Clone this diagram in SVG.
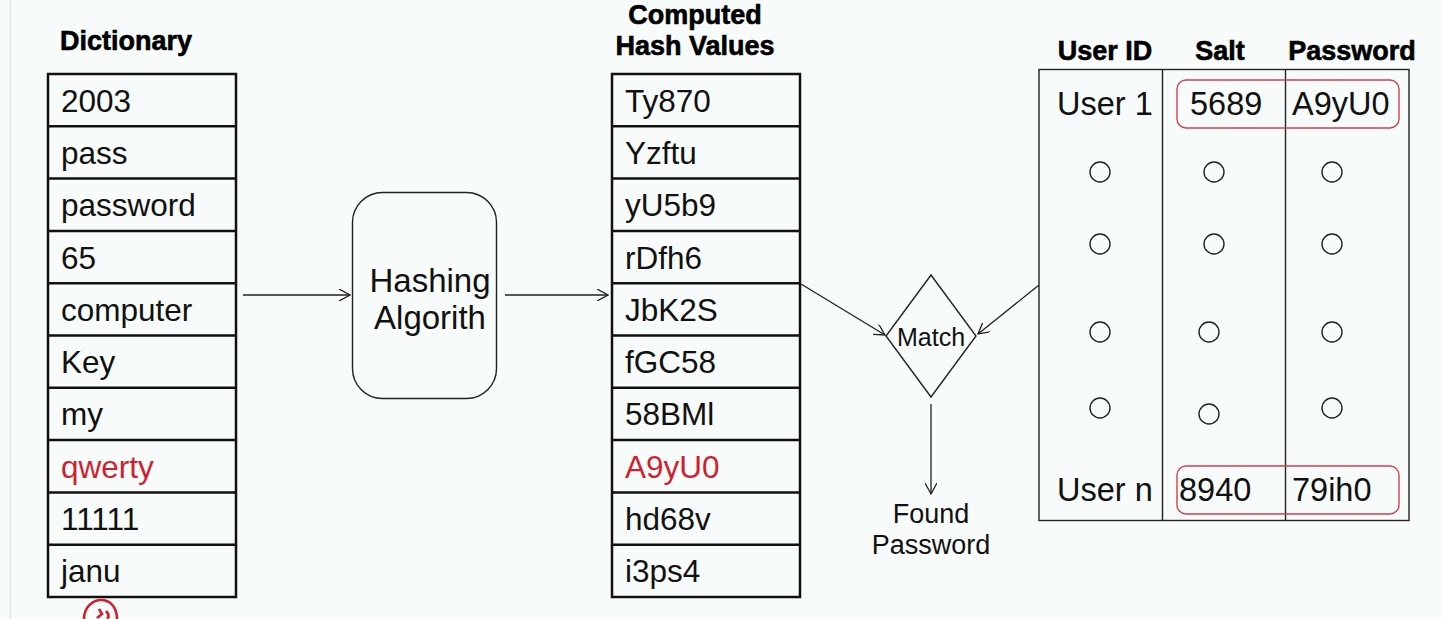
<svg xmlns="http://www.w3.org/2000/svg" width="1441" height="619" viewBox="0 0 1441 619">
<style>
.bg{fill:#f7fbf9}
.cell{fill:none;stroke:#111;stroke-width:2.5}
.t{font-family:"Liberation Sans",Arial,sans-serif;font-size:31.5px;fill:#111}
.u{font-size:32.5px}
.red{fill:#d01f30}
.h{font-family:"Liberation Sans",Arial,sans-serif;font-size:27px;font-weight:bold;fill:#000;stroke:#000;stroke-width:0.6}
.ln{fill:none;stroke:#222;stroke-width:1.3}
.thin{fill:none;stroke:#222;stroke-width:1.4}
.dot{fill:none;stroke:#222;stroke-width:1.4}
.rbox{fill:none;stroke:#d04050;stroke-width:1.4}
</style>
<defs>
<marker id="arr" viewBox="0 0 12 12" refX="11" refY="6" markerWidth="12" markerHeight="12" markerUnits="userSpaceOnUse" orient="auto">
<path d="M0,0 L11,6 L0,12" fill="none" stroke="#222" stroke-width="1.3"/>
</marker>
</defs>
<rect class="bg" x="0" y="0" width="1441" height="619"/>
<line x1="10.5" y1="0" x2="10.5" y2="619" stroke="#e2e6e4" stroke-width="1.5"/>

<g id="dictionary">
<text class="h" x="60" y="50">Dictionary</text>
<rect class="cell" x="48" y="74" width="188" height="523"/>
<path class="cell" d="M48,126.3H236M48,178.6H236M48,230.9H236M48,283.2H236M48,335.5H236M48,387.8H236M48,440.1H236M48,492.4H236M48,544.7H236"/>
<text class="t" x="61" y="112">2003</text>
<text class="t" x="61" y="164">pass</text>
<text class="t" x="61" y="216">password</text>
<text class="t" x="61" y="269">65</text>
<text class="t" x="61" y="321">computer</text>
<text class="t" x="61" y="373">Key</text>
<text class="t" x="61" y="425">my</text>
<text class="t red" x="61" y="478">qwerty</text>
<text class="t" x="61" y="530">11111</text>
<text class="t" x="61" y="582">janu</text>
</g>

<g id="hashing">
<rect x="352.5" y="192.5" width="144" height="206" rx="30" ry="30" class="thin"/>
<text class="t" x="430" y="292" text-anchor="middle" style="font-size:33px">Hashing</text>
<text class="t" x="430" y="329" text-anchor="middle" style="font-size:33px">Algorith</text>
</g>

<g id="hashes">
<text class="h" x="695" y="24" text-anchor="middle">Computed</text>
<text class="h" x="695" y="55" text-anchor="middle">Hash Values</text>
<rect class="cell" x="612" y="74" width="188" height="523"/>
<path class="cell" d="M612,126.3H800M612,178.6H800M612,230.9H800M612,283.2H800M612,335.5H800M612,387.8H800M612,440.1H800M612,492.4H800M612,544.7H800"/>
<text class="t" x="625" y="112">Ty870</text>
<text class="t" x="625" y="164">Yzftu</text>
<text class="t" x="625" y="216">yU5b9</text>
<text class="t" x="625" y="269">rDfh6</text>
<text class="t" x="625" y="321">JbK2S</text>
<text class="t" x="625" y="373">fGC58</text>
<text class="t" x="625" y="425">58BMl</text>
<text class="t red" x="625" y="478">A9yU0</text>
<text class="t" x="625" y="530">hd68v</text>
<text class="t" x="625" y="582">i3ps4</text>
</g>

<g id="match">
<polygon class="thin" points="931,275 976,336 931,397 886,336"/>
<text x="931" y="346" text-anchor="middle" style="font-family:'Liberation Sans',Arial,sans-serif;font-size:25px;fill:#111">Match</text>
</g>

<g id="found">
<text x="931" y="523" text-anchor="middle" style="font-family:'Liberation Sans',Arial,sans-serif;font-size:27px;fill:#111">Found</text>
<text x="931" y="554" text-anchor="middle" style="font-family:'Liberation Sans',Arial,sans-serif;font-size:27px;fill:#111">Password</text>
</g>

<g id="usertable">
<text class="h" x="1105" y="60" text-anchor="middle">User ID</text>
<text class="h" x="1220" y="60" text-anchor="middle">Salt</text>
<text class="h" x="1352" y="60" text-anchor="middle">Password</text>
<rect class="thin" x="1039" y="69.5" width="370" height="451"/>
<line class="thin" x1="1162.5" y1="69.5" x2="1162.5" y2="520.5"/>
<line class="thin" x1="1285.5" y1="69.5" x2="1285.5" y2="520.5"/>
<rect class="rbox" x="1177" y="80" width="222" height="48" rx="9" ry="9"/>
<rect class="rbox" x="1177" y="466" width="222" height="48" rx="9" ry="9"/>
<text class="t u" x="1057" y="115">User 1</text>
<text class="t u" x="1190" y="115">5689</text>
<text class="t u" x="1292" y="115">A9yU0</text>
<text class="t u" x="1057" y="501">User n</text>
<text class="t u" x="1179" y="501">8940</text>
<text class="t u" x="1292" y="501">79ih0</text>
<circle class="dot" cx="1100" cy="172" r="10"/>
<circle class="dot" cx="1214" cy="172" r="10"/>
<circle class="dot" cx="1332" cy="172" r="10"/>
<circle class="dot" cx="1100" cy="244" r="10"/>
<circle class="dot" cx="1214" cy="244" r="10"/>
<circle class="dot" cx="1332" cy="244" r="10"/>
<circle class="dot" cx="1100" cy="332" r="10"/>
<circle class="dot" cx="1209" cy="332" r="10"/>
<circle class="dot" cx="1332" cy="332" r="10"/>
<circle class="dot" cx="1100" cy="408" r="10"/>
<circle class="dot" cx="1209" cy="414" r="10"/>
<circle class="dot" cx="1332" cy="408" r="10"/>
</g>

<g id="connectors">
<line class="ln" x1="243" y1="295" x2="350" y2="295" marker-end="url(#arr)"/>
<line class="ln" x1="505" y1="295" x2="608" y2="295" marker-end="url(#arr)"/>
<line class="ln" x1="801" y1="284" x2="885" y2="335" marker-end="url(#arr)"/>
<line class="ln" x1="1039" y1="285" x2="978" y2="334" marker-end="url(#arr)"/>
<line class="ln" x1="931" y1="404" x2="931" y2="494" marker-end="url(#arr)"/>
</g>

<path d="M84,619 C84,606 94,600 101,600 C110,600 117,607 117,619 M99,609 L102,614 L97,618 M106,611 C109,614 109,617 107,619" fill="none" stroke="#d01f30" stroke-width="2.6"/>
</svg>
